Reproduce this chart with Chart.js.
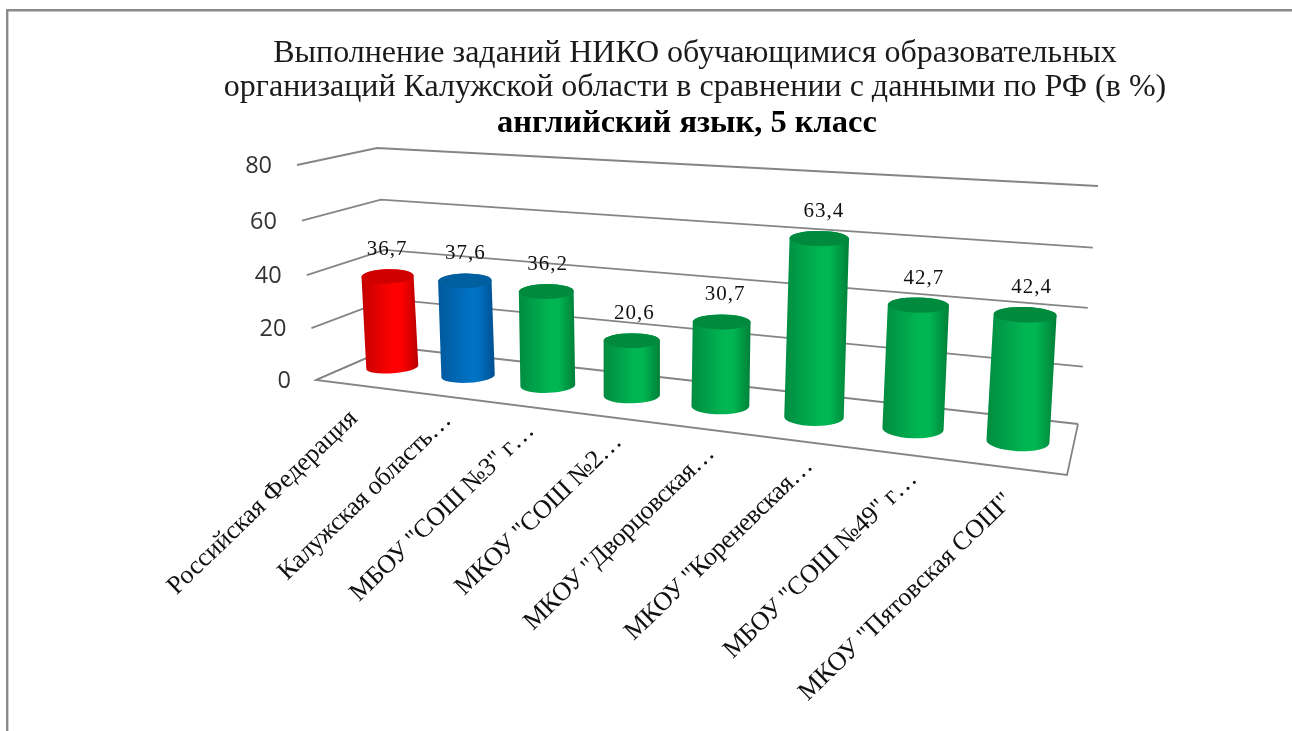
<!DOCTYPE html>
<html>
<head>
<meta charset="utf-8">
<title>НИКО</title>
<script src="https://cdn.jsdelivr.net/npm/chart.js@4/dist/chart.umd.js"></script>
<style>
  html, body { margin: 0; padding: 0; background: #fff; overflow: hidden; }
  canvas { display: block; }
</style>
</head>
<body>
<canvas id="chart" width="1292" height="731"></canvas>
<script>
const categories = [
    'Российская Федерация',
    'Калужская область…',
    'МБОУ "СОШ №3" г…',
    'МКОУ "СОШ №2…',
    'МКОУ "Дворцовская…',
    'МКОУ "Кореневская…',
    'МБОУ "СОШ №49" г…',
    'МКОУ "Пятовская СОШ"'
];
const scores = [36.7, 37.6, 36.2, 20.6, 30.7, 63.4, 42.7, 42.4];
const barKinds = ['red', 'blue', 'green', 'green', 'green', 'green', 'green', 'green'];
const titleLines = [
    'Выполнение заданий НИКО обучающимися образовательных',
    'организаций Калужской области в сравнении с данными по РФ (в %)'
];
const subtitleLine = 'английский язык, 5 класс  ';

const shades = {
    red: { edge: '#c40000', mid: '#ff0000', far: '#b80000', top: '#d00000' },
    blue: { edge: '#00589c', mid: '#0072c4', far: '#004f8e', top: '#00609f' },
    green: { edge: '#008c40', mid: '#00b652', far: '#008038', top: '#008a3e' }
};

// floor of the 3d box on the page: front-left, front-right, back-right, back-left
const floor = [[316, 380], [1067, 475], [1078, 424], [392, 347]];
const wallFrontTop = [297, 165];
const wallBackTop = [377, 148];
const wallRightTop = [1098, 186];
const gridColor = '#858585';

const lerp = (a, b, t) => a + (b - a) * t;

// unit square -> floor quad
function makeFloor(q) {
    const dx1 = q[1][0] - q[2][0], dx2 = q[3][0] - q[2][0], sx = q[0][0] - q[1][0] + q[2][0] - q[3][0];
    const dy1 = q[1][1] - q[2][1], dy2 = q[3][1] - q[2][1], sy = q[0][1] - q[1][1] + q[2][1] - q[3][1];
    const den = dx1 * dy2 - dx2 * dy1;
    const g = (sx * dy2 - dx2 * sy) / den, h = (dx1 * sy - sx * dy1) / den;
    const a = q[1][0] - q[0][0] + g * q[1][0], b = q[3][0] - q[0][0] + h * q[3][0];
    const d = q[1][1] - q[0][1] + g * q[1][1], e = q[3][1] - q[0][1] + h * q[3][1];
    return (u, v) => {
        const w = g * u + h * v + 1;
        return { x: (a * u + b * v + q[0][0]) / w, y: (d * u + e * v + q[0][1]) / w, near: 1 / w };
    };
}
const onFloor = makeFloor(floor);

// point at share t of the wall height above a floor corner, upper part a bit squeezed
const wallShare = (t) => t / (t + (1 - t) * 1.05);
const wallPoint = (base, top, t) => {
    const s = wallShare(t);
    return [lerp(base[0], top[0], s), lerp(base[1], top[1], s)];
};

function drawFrame(ctx) {
    ctx.save();
    ctx.strokeStyle = '#8a8a8a';
    ctx.lineWidth = 2.4;
    ctx.beginPath();
    ctx.moveTo(7.2, 731);
    ctx.lineTo(7.2, 10.2);
    ctx.lineTo(1292, 10.2);
    ctx.stroke();
    ctx.restore();
}

function drawBox(chart) {
    const ctx = chart.ctx, y = chart.scales.y;
    ctx.save();
    ctx.strokeStyle = gridColor;
    ctx.lineWidth = 1.8;
    y.ticks.forEach((tick) => {
        const t = (tick.value - y.min) / (y.max - y.min);
        const a = wallPoint(floor[0], wallFrontTop, t);
        const b = wallPoint(floor[3], wallBackTop, t);
        const c = wallPoint(floor[2], wallRightTop, t);
        ctx.beginPath();
        ctx.moveTo(a[0], a[1]);
        ctx.lineTo(b[0], b[1]);
        ctx.lineTo(c[0], c[1]);
        ctx.stroke();
        ctx.fillStyle = '#333';
        ctx.font = '23.5px "Open Sans"';
        ctx.textAlign = 'right';
        ctx.textBaseline = 'middle';
        ctx.fillText(tick.label, a[0] - 25, a[1] + 1.5);
    });
    // floor edges
    ctx.beginPath();
    ctx.moveTo(floor[3][0], floor[3][1]);
    ctx.lineTo(floor[0][0], floor[0][1]);
    ctx.lineTo(floor[1][0], floor[1][1]);
    ctx.lineTo(floor[2][0], floor[2][1]);
    ctx.stroke();
    ctx.restore();
}

function cylinderAt(chart, bar) {
    const area = chart.chartArea, y = chart.scales.y;
    const u = (bar.x - area.left) / (area.right - area.left);
    const value = y.getValueForPixel(bar.y);
    const p = onFloor(u, 0.5);
    const tx = p.x + lerp(-0.15, 0.19, u) * value;
    const ty = p.y - 2.56 * p.near * value;
    return { u: u, bx: p.x, by: p.y, tx: tx, ty: ty, rx: 27 * p.near };
}

function drawCylinder(ctx, c, kind) {
    const s = shades[kind];
    const rotBottom = lerp(-0.08, 0.06, c.u), rotTop = lerp(-0.03, 0.03, c.u);
    const ryBottom = lerp(6, 10, c.u), ryTop = lerp(7.2, 7.8, c.u);
    const left = Math.min(c.bx, c.tx) - c.rx, right = Math.max(c.bx, c.tx) + c.rx;
    const side = ctx.createLinearGradient(left, 0, right, 0);
    side.addColorStop(0, s.edge);
    side.addColorStop(0.55, s.mid);
    side.addColorStop(0.7, s.mid);
    side.addColorStop(1, s.far);
    ctx.fillStyle = side;
    ctx.beginPath();
    ctx.ellipse(c.bx, c.by, c.rx, ryBottom, rotBottom, Math.PI, 0, true);
    ctx.lineTo(c.tx + c.rx, c.ty);
    ctx.ellipse(c.tx, c.ty, c.rx, ryTop, rotTop, 0, Math.PI, true);
    ctx.closePath();
    ctx.fill();
    ctx.fillStyle = s.top;
    ctx.beginPath();
    ctx.ellipse(c.tx, c.ty, c.rx, ryTop, rotTop, 0, Math.PI * 2);
    ctx.fill();
}

const box3d = {
    id: 'box3d',
    beforeDraw(chart) {
        drawFrame(chart.ctx);
    },
    beforeDatasetsDraw(chart) {
        drawBox(chart);
    },
    beforeDatasetDraw(chart, args) {
        const ctx = chart.ctx, meta = chart.getDatasetMeta(args.index);
        ctx.save();
        meta.data.forEach((bar, i) => {
            drawCylinder(ctx, cylinderAt(chart, bar), barKinds[i]);
        });
        ctx.restore();
        return false;
    },
    afterDatasetsDraw(chart) {
        const ctx = chart.ctx, meta = chart.getDatasetMeta(0), x = chart.scales.x;
        ctx.save();
        ctx.fillStyle = '#111';
        meta.data.forEach((bar, i) => {
            const c = cylinderAt(chart, bar);
            // value above the top
            ctx.font = '21px "Liberation Serif"';
            ctx.letterSpacing = '1px';
            ctx.textAlign = 'center';
            ctx.textBaseline = 'middle';
            ctx.fillText(String(scores[i]).replace('.', ','), c.tx + lerp(-1, 7, c.u), c.ty - 27);
            // category under the front edge, rotated
            const label = x.getLabelForValue(i);
            const cut = label.endsWith('…');
            const f = onFloor(c.u, 0);
            ctx.save();
            ctx.translate(f.x + (cut ? 15 : 0), f.y + (cut ? 22 : 30));
            ctx.rotate(-44 * Math.PI / 180);
            ctx.font = '26px "Liberation Serif"';
            ctx.letterSpacing = cut ? '-0.4px' : '0px';
            ctx.textAlign = 'right';
            ctx.textBaseline = 'middle';
            ctx.fillText(label, 0, 0);
            ctx.restore();
        });
        ctx.restore();
    }
};

new Chart(document.getElementById('chart'), {
    type: 'bar',
    data: {
        labels: categories,
        datasets: [{ data: scores, backgroundColor: barKinds.map((k) => shades[k].mid) }]
    },
    plugins: [box3d],
    options: {
        responsive: false,
        animation: false,
        layout: { padding: { left: 98, top: 37, right: 0, bottom: 10 } },
        plugins: {
            legend: { display: false },
            tooltip: { enabled: false },
            title: {
                display: true,
                text: titleLines,
                color: '#1a1a1a',
                font: { family: '"Liberation Serif"', size: 32, weight: 'normal', lineHeight: 1.05 },
                padding: { top: 0, bottom: 2 }
            },
            subtitle: {
                display: true,
                text: subtitleLine,
                color: '#000',
                font: { family: '"Liberation Serif"', size: 32.5, weight: 'bold', lineHeight: 1.05 },
                padding: { top: 0, bottom: 0 }
            }
        },
        scales: {
            x: { display: false },
            y: { display: false, min: 0, max: 80, ticks: { stepSize: 20 } }
        }
    }
});
</script>
</body>
</html>
